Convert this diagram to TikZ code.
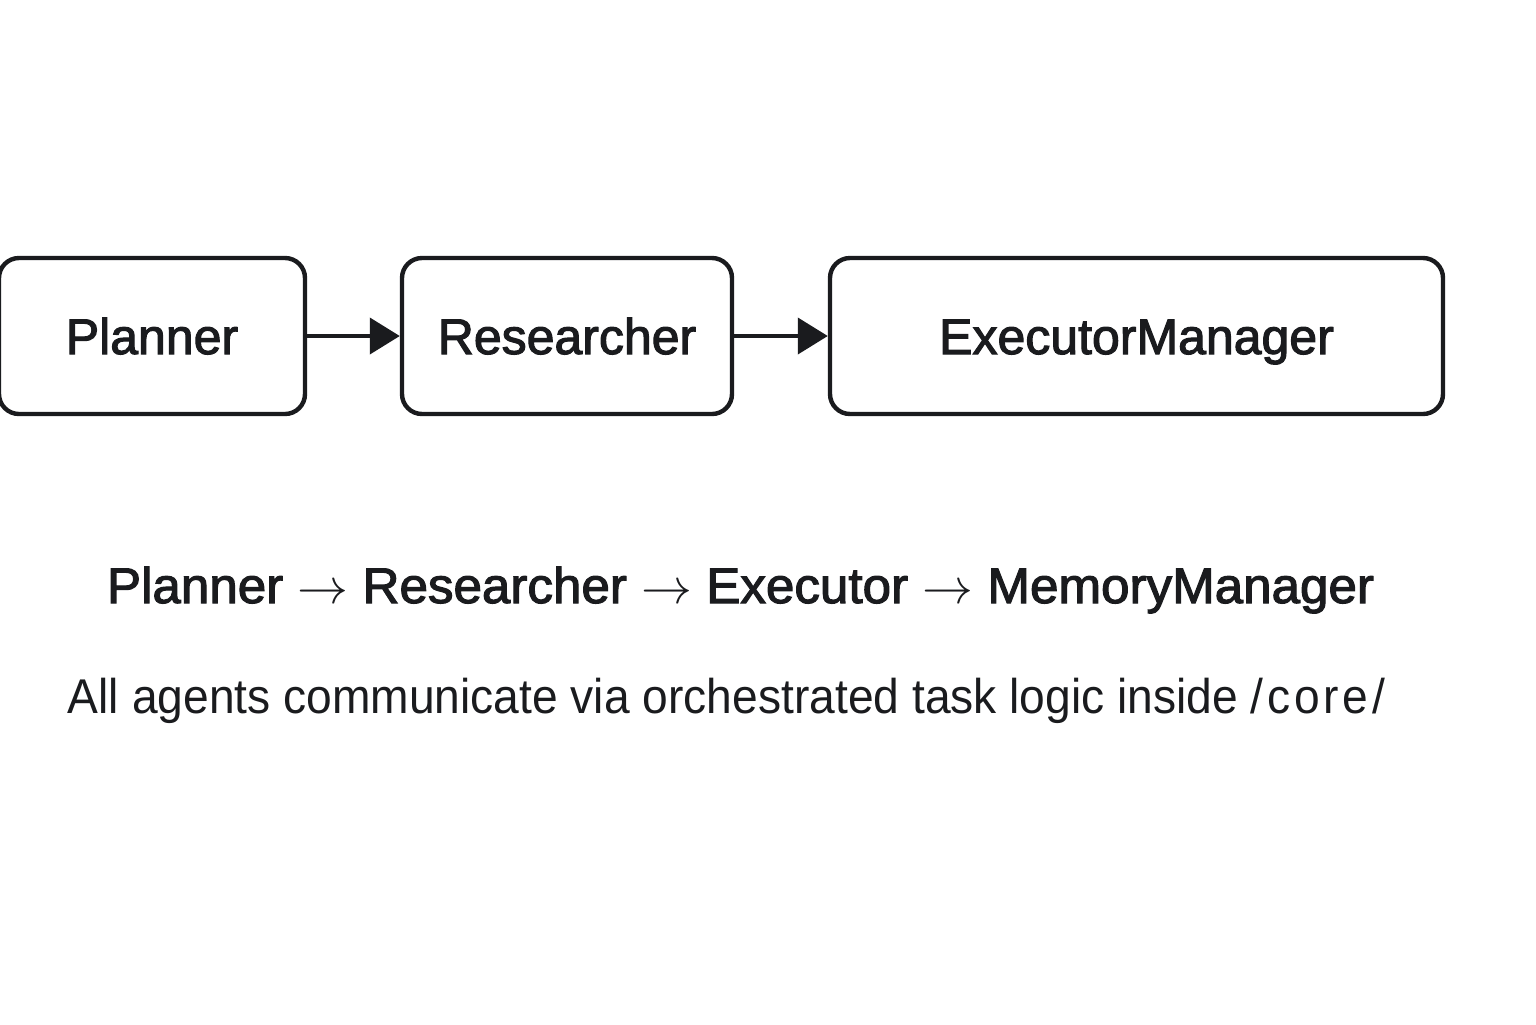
\documentclass[tikz,border=0pt]{standalone}
\usepackage{fontspec}
\usepackage{graphicx}
\setmainfont{Liberation Sans}
\newfontfamily\medfont[FakeBold=2.2]{Liberation Sans}
\newfontfamily\spacedfont[LetterSpace=8]{Liberation Sans}
\usetikzlibrary{arrows.meta}
\definecolor{ink}{HTML}{1A1B1E}
\tikzset{
  agent/.style={draw=ink, line width=2.2pt, rounded corners=10pt, minimum height=78pt,
    text=ink, font=\medfont\fontsize{25}{30}\selectfont, text height=18pt, text depth=0pt, inner sep=0pt},
  flow/.style={draw=ink, line width=2pt, -{Triangle[length=15pt,width=18pt]}},
  caption/.style={text=ink, inner sep=0pt, anchor=base}
}
\begin{document}
\begin{tikzpicture}[x=0.5pt,y=-0.5pt]
\useasboundingbox (0,0) rectangle (1536,1024);
\node[agent, minimum width=153pt] (planner) at (152,336) {Planner};
\node[agent, minimum width=165pt] (researcher) at (567,336) {Researcher};
\node[agent, minimum width=306.5pt] (exec) at (1136.5,336) {ExecutorManager};
\draw[flow] (planner.east) -- (researcher.west);
\draw[flow] (researcher.east) -- (exec.west);
\node[caption, font=\medfont\fontsize{25}{30}\selectfont] (chain) at (740.5,603)
  {\resizebox{633.5pt}{\height}{Planner $\rightarrow$ Researcher $\rightarrow$ Executor $\rightarrow$ MemoryManager}};
\node[caption, font=\fontsize{24.4}{29}\selectfont] (note) at (726.5,713)
  {\resizebox{658.5pt}{\height}{All agents communicate via orchestrated task logic inside {\spacedfont\fontsize{24.4}{29}\selectfont/core/}}};
\end{tikzpicture}
\end{document}
